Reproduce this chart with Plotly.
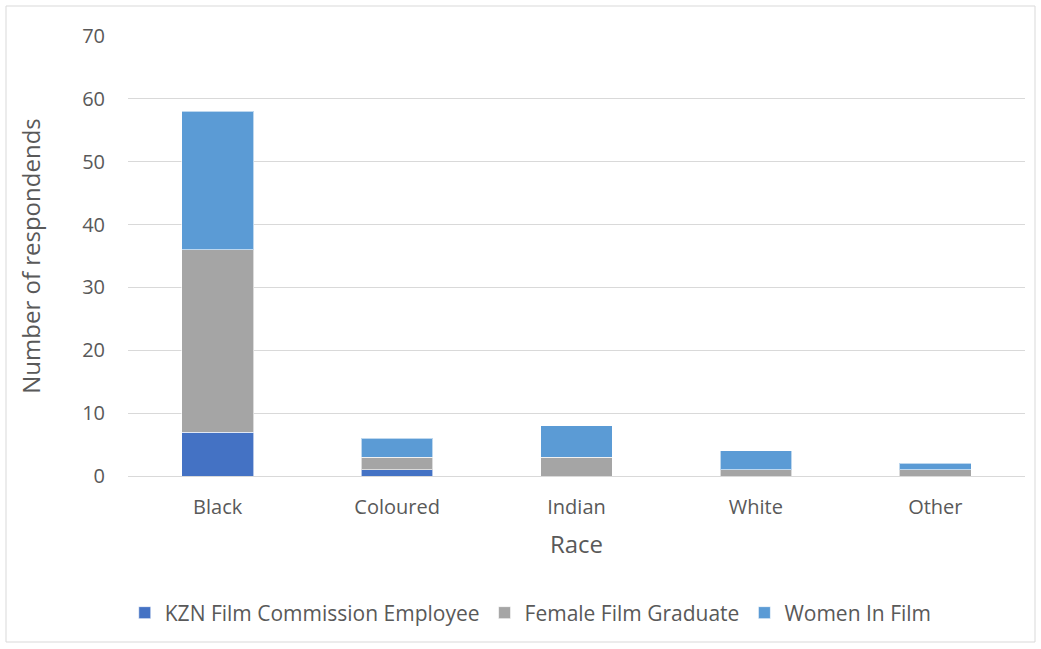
import plotly.graph_objects as go

races = ["Black", "Coloured", "Indian", "White", "Other"]
kzn_employee = [7, 1, 0, 0, 0]
film_graduate = [29, 2, 3, 1, 1]
women_in_film = [22, 3, 5, 3, 1]

series = [
    ("KZN Film Commission Employee", kzn_employee, "#4472C4"),
    ("Female Film Graduate", film_graduate, "#A5A5A5"),
    ("Women In Film", women_in_film, "#5B9BD5"),
]

fig = go.Figure()
for name, vals, col in series:
    fig.add_trace(go.Bar(x=races, y=vals, name=name, marker_color=col,
                         marker_line=dict(color="rgba(255,255,255,0.6)", width=1)))

font_name = "Open Sans"
fig.update_layout(
    width=1041, height=649,
    barmode="stack", bargap=0.6,
    plot_bgcolor="white", paper_bgcolor="white",
    margin=dict(l=128, r=16, t=36, b=173, autoexpand=False),
    font=dict(family=font_name, size=20, color="#595959"),
    yaxis=dict(range=[0, 70], dtick=10, showgrid=True, gridcolor="#D9D9D9",
               gridwidth=1, zeroline=False, ticks="", ticklabelstandoff=22,
               title=dict(text="Number of respondends", standoff=34)),
    xaxis=dict(showline=True, linecolor="#D9D9D9", ticks="",
               ticklabelstandoff=13,
               title=dict(text="Race", standoff=17)),
    legend=dict(orientation="h", x=0.449, xanchor="center", y=-137/440,
                yanchor="middle", traceorder="normal",
                font=dict(size=21), itemwidth=30),
    shapes=[dict(type="rect", xref="paper", yref="paper",
                 x0=-122/897, x1=1.0 + 10/897, y0=-166/440, y1=1 + 30/440,
                 line=dict(color="#D9D9D9", width=1))],
)

fig.write_html("out.html", config={"displayModeBar": False},
               post_script="document.body.style.margin='0';")
